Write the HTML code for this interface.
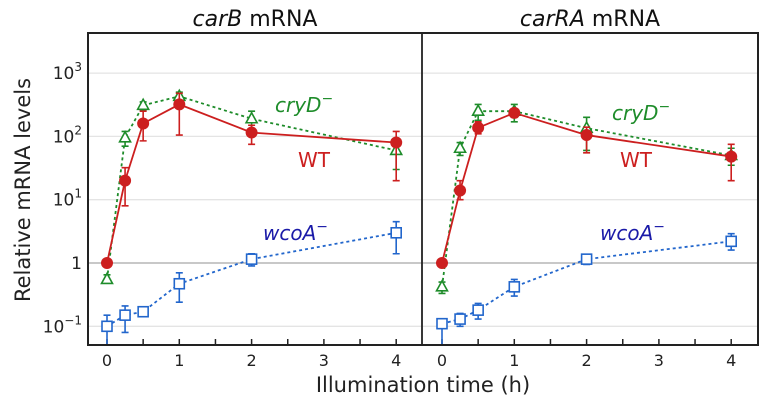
<!DOCTYPE html>
<html><head><meta charset="utf-8"><style>
body{margin:0;background:#fff}
svg{display:block;font-family:"DejaVu Sans","Liberation Sans",sans-serif}
</style></head><body>
<svg id="chart" width="766" height="410" viewBox="0 0 766 410"></svg>
<script>
const times=[0,0.25,0.5,1,2,4];
const xTicks=[0,1,2,3,4];
const yTickVals=[0.1,1,10,100,1000];
const yTickLabels=[["10","−1"],["1",""],["10","1"],["10","2"],["10","3"]];
// carB
const carB_WT=[1,20,160,320,115,80];
const carB_WT_lo=[1,8,85,105,75,20];
const carB_WT_hi=[1,32,250,480,150,120];
const carB_cry=[0.55,95,310,430,190,60];
const carB_cry_lo=[0.5,70,260,350,120,30];
const carB_cry_hi=[0.65,120,350,500,250,90];
const carB_wco=[0.1,0.15,0.17,0.47,1.15,3];
const carB_wco_lo=[0.05,0.08,0.15,0.24,0.9,1.4];
const carB_wco_hi=[0.15,0.21,0.19,0.7,1.4,4.5];
// carRA
const carRA_WT=[1,14,137,235,105,48];
const carRA_WT_lo=[1,10,110,200,55,20];
const carRA_WT_hi=[1,20,170,270,140,75];
const carRA_cry=[0.42,65,250,250,135,50];
const carRA_cry_lo=[0.33,50,180,170,60,35];
const carRA_cry_hi=[0.5,80,320,320,200,65];
const carRA_wco=[0.11,0.13,0.18,0.42,1.15,2.2];
const carRA_wco_lo=[0.05,0.1,0.13,0.3,0.95,1.6];
const carRA_wco_hi=[0.11,0.16,0.23,0.55,1.3,2.9];

const NS="http://www.w3.org/2000/svg";
const svg=document.getElementById('chart');
function mk(tag,attrs,parent){const e=document.createElementNS(NS,tag);for(const k in attrs)e.setAttribute(k,attrs[k]);(parent||svg).appendChild(e);return e;}
const TOP=33,BOT=345;
function yS(v){return 263-Math.log10(v)*63.3;}
const RED="#cc1f1f",GREEN="#1e8c2a",BLUE="#2266cc";

function panel(x0,x1,origin,title,WT,WTlo,WThi,cry,crylo,cryhi,wco,wcolo,wcohi,lbl){
  const xS=t=>origin+t*72.3;
  const g=mk('g',{});
  
  
  yTickVals.forEach(v=>{const l=mk('line',{x1:x0,x2:x1,y1:yS(v),y2:yS(v),stroke:v===1?'#c8c8c8':'#e4e4e4','stroke-width':v===1?2:1.3},g);
    });
  for(let t=0;t<=4;t+=0.5){const l=mk('line',{x1:xS(t),x2:xS(t),y1:BOT,y2:BOT-6,stroke:'#222','stroke-width':1.5},g);
    }
  xTicks.forEach(t=>{const tx=mk('text',{x:xS(t),y:BOT+21,'text-anchor':'middle','font-size':16,fill:'#222'},g);tx.textContent=t;
    });
  const tt=mk('text',{x:(x0+x1)/2,y:26,'text-anchor':'middle','font-size':22,fill:'#111'},g);
  
  const parts=title.split(' ');
  const ts=mk('tspan',{'font-style':'italic'},tt);ts.textContent=parts[0];
  const ts2=mk('tspan',{},tt);ts2.textContent=' '+parts[1];
  function series(vals,lo,hi,color,dash,marker,name){
    const sg=mk('g',{},g);
    
    const pl=mk('polyline',{points:vals.map((v,i)=>xS(times[i])+','+yS(v)).join(' '),fill:'none',stroke:color,'stroke-width':1.8,'stroke-dasharray':dash},sg);
    
    vals.forEach((v,i)=>{const x=xS(times[i]);
      const yl=Math.min(yS(lo[i]),BOT),yh=yS(hi[i]);
      if(Math.abs(yl-yh)>1){
        const e=mk('path',{d:`M${x},${yl}V${yh}M${x-3.5},${yh}H${x+3.5}`+(yS(lo[i])<BOT?`M${x-3.5},${yl}H${x+3.5}`:''),stroke:color,'stroke-width':1.6,fill:'none'},sg);
        }
      let m;const y=yS(v);
      if(marker==='circle')m=mk('circle',{cx:x,cy:y,r:6,fill:color},sg);
      else if(marker==='tri')m=mk('path',{d:`M${x},${y-6}L${x+5.5},${y+4}L${x-5.5},${y+4}Z`,fill:'#fff',stroke:color,'stroke-width':1.6},sg);
      else m=mk('rect',{x:x-5,y:y-5,width:10,height:10,fill:'#fff',stroke:color,'stroke-width':1.6},sg);
      
    });
  }
  series(wco,wcolo,wcohi,BLUE,'3,3','square','wcoa');
  series(cry,crylo,cryhi,GREEN,'3,3','tri','cryd');
  series(WT,WTlo,WThi,RED,'','circle','wt');
  function label(x,y,txt,color,ital,sup,name){
    const t=mk('text',{x:x,y:y,'font-size':20,fill:color,'font-style':ital?'italic':'normal'},g);
    
    const a=mk('tspan',{},t);a.textContent=txt;
    if(sup){const b=mk('tspan',{dy:-9,'font-size':14,'font-style':'normal'},t);b.textContent='−';}
  }
  label(lbl[0],lbl[1],'cryD',GREEN,true,true,'cryd-label');
  label(lbl[2],lbl[3],'WT',RED,false,false,'wt-label');
  label(lbl[4],lbl[5],'wcoA',"#1a1aa8",true,true,'wcoa-label');
}
panel(88,422,107,'carB mRNA',carB_WT,carB_WT_lo,carB_WT_hi,carB_cry,carB_cry_lo,carB_cry_hi,carB_wco,carB_wco_lo,carB_wco_hi,[275,112,298,167,263,240]);
panel(422,758,442,'carRA mRNA',carRA_WT,carRA_WT_lo,carRA_WT_hi,carRA_cry,carRA_cry_lo,carRA_cry_hi,carRA_wco,carRA_wco_lo,carRA_wco_hi,[612,120,620,167,600,240]);

// frame
const fr=mk('rect',{x:88,y:TOP,width:670,height:BOT-TOP,fill:'none',stroke:'#222','stroke-width':2});

const dv=mk('line',{x1:422,x2:422,y1:TOP,y2:BOT,stroke:'#222','stroke-width':1.8});

// y tick labels
yTickVals.forEach((v,i)=>{const t=mk('text',{x:82,y:yS(v)+6,'text-anchor':'end','font-size':17,fill:'#222'});
  
  const a=mk('tspan',{},t);a.textContent=yTickLabels[i][0];
  if(yTickLabels[i][1]){const b=mk('tspan',{dy:-8,'font-size':12},t);b.textContent=yTickLabels[i][1];}
});
const yt=mk('text',{x:0,y:0,transform:'translate(30,190) rotate(-90)','text-anchor':'middle','font-size':21,fill:'#222'});
yt.textContent='Relative mRNA levels';

const xt=mk('text',{x:423,y:392,'text-anchor':'middle','font-size':21,fill:'#222'});
xt.textContent='Illumination time (h)';

</script>
</body></html>
